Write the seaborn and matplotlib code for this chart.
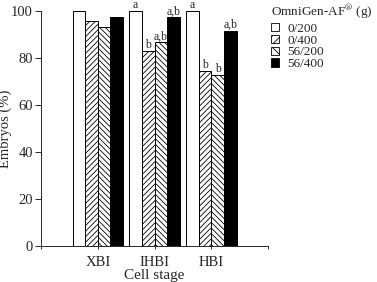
import seaborn as sns
import numpy as np
import pandas as pd
import matplotlib.pyplot as plt
from matplotlib.patches import Patch

# datos
etapas = ["XBI", "IHBI", "HBI"]
tratamientos = ["0/200", "0/400", "56/200", "56/400"]
val_0_200 = [100, 100, 100]
val_0_400 = [95.9, 83.1, 74.5]
val_56_200 = [93.3, 86.7, 72.8]
val_56_400 = [97.3, 97.3, 91.6]
letras_0_200 = ["", "a", "a"]
letras_0_400 = ["", "b", "b"]
letras_56_200 = ["", "a,b", "b"]
letras_56_400 = ["", "a,b", "a,b"]

valores = [val_0_200, val_0_400, val_56_200, val_56_400]
letras = [letras_0_200, letras_0_400, letras_56_200, letras_56_400]
df = pd.DataFrame({
    "etapa": [e for v in valores for e in etapas],
    "trat": [t for t, v in zip(tratamientos, valores) for _ in v],
    "pct": [x for v in valores for x in v],
})

sns.set_style("ticks")
plt.rcParams["font.family"] = ["Liberation Serif", "DejaVu Serif"]
plt.rcParams["mathtext.fontset"] = "stix"
plt.rcParams["hatch.linewidth"] = 0.6

fig = plt.figure(figsize=(3.77, 2.82), dpi=100)
ax = fig.add_axes([0.109, 0.128, 0.602, 0.833])

sns.barplot(data=df, x="etapa", y="pct", hue="trat", order=etapas,
            hue_order=tratamientos, width=0.89, gap=0, palette=["white"] * 3 + ["black"],
            edgecolor="black", linewidth=0.7, ax=ax, legend=False, errorbar=None)

hatches = ["", "//////", "\\\\\\\\\\\\", ""]
bars = ax.patches
for i, t in enumerate(tratamientos):
    for j in range(len(etapas)):
        p = bars[i * len(etapas) + j]
        p.set_hatch(hatches[i])
        if letras[i][j]:
            ax.text(p.get_x() + p.get_width() / 2, p.get_height() + 1.2, letras[i][j],
                    ha="center", va="baseline", fontsize=8.5, clip_on=False)

ax.set_xlim(-1, 3)
ax.set_ylim(0, 100)
ax.set_yticks([0, 20, 40, 60, 80, 100])
ax.set_xticks([-1, 0, 1, 2, 3])
ax.set_xticklabels(["", "XBI", "IHBI", "HBI", ""])
ax.tick_params(axis="y", labelsize=10.5, length=4, width=0.7, pad=2)
ax.tick_params(axis="x", labelsize=10.5, length=2.5, width=0.7, pad=5)
ax.set_xlabel("Cell stage", fontsize=11, labelpad=0)
ax.set_ylabel("Embryos (%)", fontsize=10.5)
ax.yaxis.set_label_coords(-0.128, 0.5)
for s in ["left", "bottom"]:
    ax.spines[s].set_linewidth(0.7)
sns.despine(ax=ax)

handles = [Patch(facecolor=c, edgecolor="black", hatch=h, linewidth=0.6)
           for c, h in zip(["white", "white", "white", "black"], ["", "////", "\\\\\\\\", ""])]
leg = fig.legend(handles, tratamientos, title="OmniGen-AF$^{\\circledR}$ (g)",
                 loc="upper left", bbox_to_anchor=(0.713, 1.0), frameon=False,
                 fontsize=9.5, title_fontsize=9.5, handlelength=0.6, handleheight=0.6,
                 handletextpad=0.6, labelspacing=-0.02, borderaxespad=0, borderpad=0.2)
leg._legend_box.align = "left"
leg._legend_box.sep = 1

fig.savefig("out.png", dpi=100)
